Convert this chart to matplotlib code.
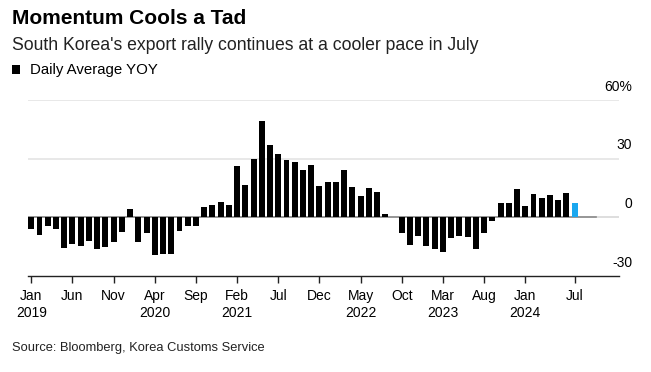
import numpy as np
import matplotlib
matplotlib.use('Agg')
import matplotlib.pyplot as plt
from matplotlib.patches import Rectangle
from matplotlib.transforms import blended_transform_factory

plt.rcParams['font.family'] = ['Liberation Sans', 'DejaVu Sans']

# monthly daily-average export growth, Jan 2019 .. Jul 2024 (%)
yoy = [
    -6.2, -9.1, -4.3, -6.2, -15.9, -13.8, -14.7, -12.3, -16.4, -15.0, -12.8, -7.4,   # 2019
    4.1, -12.6, -7.9, -19.0, -18.5, -18.6, -7.0, -4.3, -4.6, 5.1, 6.2, 7.7,          # 2020
    6.3, 26.3, 16.6, 29.7, 49.4, 37.1, 32.5, 29.1, 28.4, 24.4, 26.7, 16.1,           # 2021
    18.1, 18.1, 24.3, 15.4, 10.9, 14.9, 13.2, 1.9, 0.2, -8.2, -14.2, -9.6,           # 2022
    -14.5, -16.2, -17.6, -10.8, -9.6, -9.9, -16.2, -8.2, -2.1, 7.4, 7.4, 14.5,       # 2023
    5.8, 12.0, 9.9, 11.3, 9.1, 12.3, 7.2,                                            # 2024
]
tick_pos = [0, 5, 10, 15, 20, 25, 30, 35, 40, 45, 50, 55, 60, 66]
tick_labels = ['Jan\n2019', 'Jun', 'Nov', 'Apr\n2020', 'Sep', 'Feb\n2021', 'Jul',
               'Dec', 'May\n2022', 'Oct', 'Mar\n2023', 'Aug', 'Jan\n2024', 'Jul']
y_ticks = [-30, 0, 30, 60]
y_labels = ['-30', '0', '30', '60%']

fig = plt.figure(figsize=(6.51, 3.72), dpi=100)
ax = fig.add_axes([0.043, 0.258, 0.908, 0.473])

x = np.arange(len(yoy))
colors = ['black'] * (len(yoy) - 1) + ['#1aa7ef']
ax.bar(x, yoy, width=0.72, color=colors, zorder=3)

ax.set_xlim(-0.4, 71.4)
ax.set_ylim(-30, 60)

for v in [30, 60]:
    ax.axhline(v, color='#e4e4e4', lw=1.2, zorder=1)
ax.axhline(0, color='#d8d8d8', lw=1.2, zorder=1)
ax.plot([-0.4, 68.6], [0, 0], color='#8a8a8a', lw=1.2, zorder=2)

for s in ['top', 'right', 'left']:
    ax.spines[s].set_visible(False)
ax.spines['bottom'].set_color('#222222')
ax.spines['bottom'].set_linewidth(1.0)
ax.set_yticks([])
ax.set_xticks(tick_pos)
ax.set_xticklabels(tick_labels, fontsize=10, linespacing=1.35)
ax.tick_params(axis='x', length=5, width=1, color='#222222', pad=4)

trans = blended_transform_factory(ax.transAxes, ax.transData)
for v, lab in zip(y_ticks, y_labels):
    ax.text(1.022, v + 3.2, lab, transform=trans, ha='right', va='bottom', fontsize=10)

fig.text(0.018, 0.950, 'Momentum Cools a Tad', fontsize=15, fontweight='bold', va='center')
fig.text(0.018, 0.878, "South Korea's export rally continues at a cooler pace in July",
         fontsize=12.7, va='center', color='#222222')
fig.patches.append(Rectangle((0.0185, 0.800), 0.0125, 0.024, transform=fig.transFigure,
                             facecolor='black', edgecolor='none'))
fig.text(0.046, 0.812, 'Daily Average YOY', fontsize=10.8, va='center')
fig.text(0.018, 0.065, 'Source: Bloomberg, Korea Customs Service', fontsize=9.3,
         va='center', color='#222222')

fig.savefig('out.png', dpi=100)
